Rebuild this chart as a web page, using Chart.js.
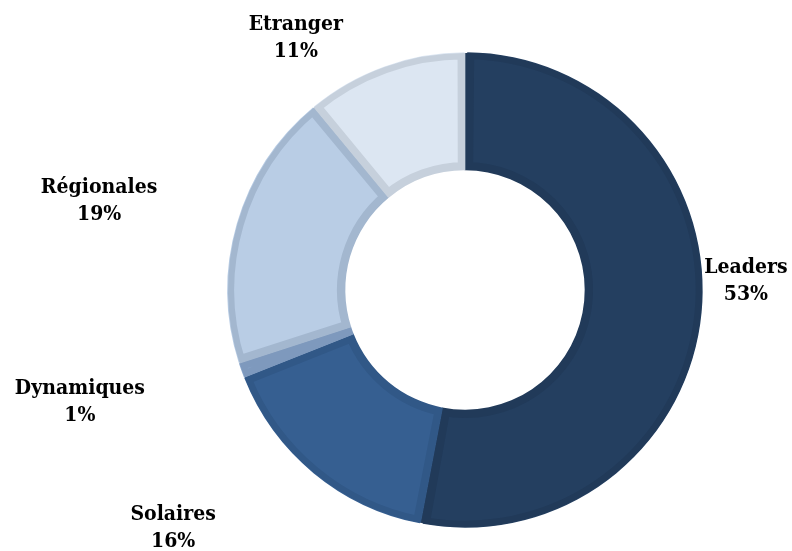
<!DOCTYPE html>
<html>
<head>
<meta charset="utf-8">
<script src="https://cdn.jsdelivr.net/npm/chart.js@4/dist/chart.umd.min.js"></script>
<style>
  html, body { margin: 0; padding: 0; background: #ffffff; }
  #wrap { width: 792px; height: 551px; }
</style>
</head>
<body>
<div id="wrap"><canvas id="c" width="792" height="551"></canvas></div>
<script>
// ---- data ----
const categories = ["Leaders", "Solaires", "Dynamiques", "Régionales", "Etranger"];
const shares = [53, 16, 1, 19, 11];

// ---- styles ----
const fillColors   = ["#243F60", "#365F91", "#8FABD0", "#B9CDE5", "#DCE6F2"];
const borderColors = ["#213A59", "#315887", "#7E99BD", "#A3B7CF", "#C6D0DC"];
// label placement relative to each slice: angle offset (deg) from slice middle, radius factor
const labelAngleOffset = [-7.2, 11.2, 3.6, -2.5, -14.1];
const labelRadiusFactor = [1.186, 1.589, 1.692, 1.589, 1.28];

const labelPlugin = {
  id: 'outsideLabels',
  afterDatasetsDraw(chart) {
    const ctx = chart.ctx;
    const meta = chart.getDatasetMeta(0);
    const data = chart.data.datasets[0].data;
    const total = data.reduce((a, b) => a + b, 0);
    ctx.save();
    ctx.font = 'bold 21px "DejaVu Serif Condensed", "DejaVu Serif", serif';
    ctx.fillStyle = '#000000';
    ctx.textAlign = 'center';
    ctx.textBaseline = 'middle';
    meta.data.forEach((arc, i) => {
      const p = arc.getProps(['x', 'y', 'startAngle', 'endAngle', 'outerRadius'], true);
      const mid = (p.startAngle + p.endAngle) / 2 + labelAngleOffset[i] * Math.PI / 180;
      const r = p.outerRadius * labelRadiusFactor[i];
      const cx = p.x + Math.cos(mid) * r;
      const cy = p.y + Math.sin(mid) * r;
      const pct = Math.round(data[i] / total * 100) + '%';
      ctx.fillText(chart.data.labels[i], cx, cy - 13.5);
      ctx.fillText(pct, cx, cy + 13.5);
    });
    ctx.restore();
  }
};

new Chart(document.getElementById('c'), {
  type: 'doughnut',
  data: {
    labels: categories,
    datasets: [{
      data: shares,
      backgroundColor: fillColors,
      borderColor: borderColors,
      borderWidth: 7,
      borderAlign: 'inner',
      hoverOffset: 0
    }]
  },
  options: {
    responsive: false,
    animation: false,
    events: [],
    cutout: '50.5%',
    spacing: 2,
    layout: { padding: { left: 227, right: 89, top: 52, bottom: 23 } },
    plugins: {
      legend: { display: false },
      tooltip: { enabled: false }
    }
  },
  plugins: [labelPlugin]
});
</script>
</body>
</html>
